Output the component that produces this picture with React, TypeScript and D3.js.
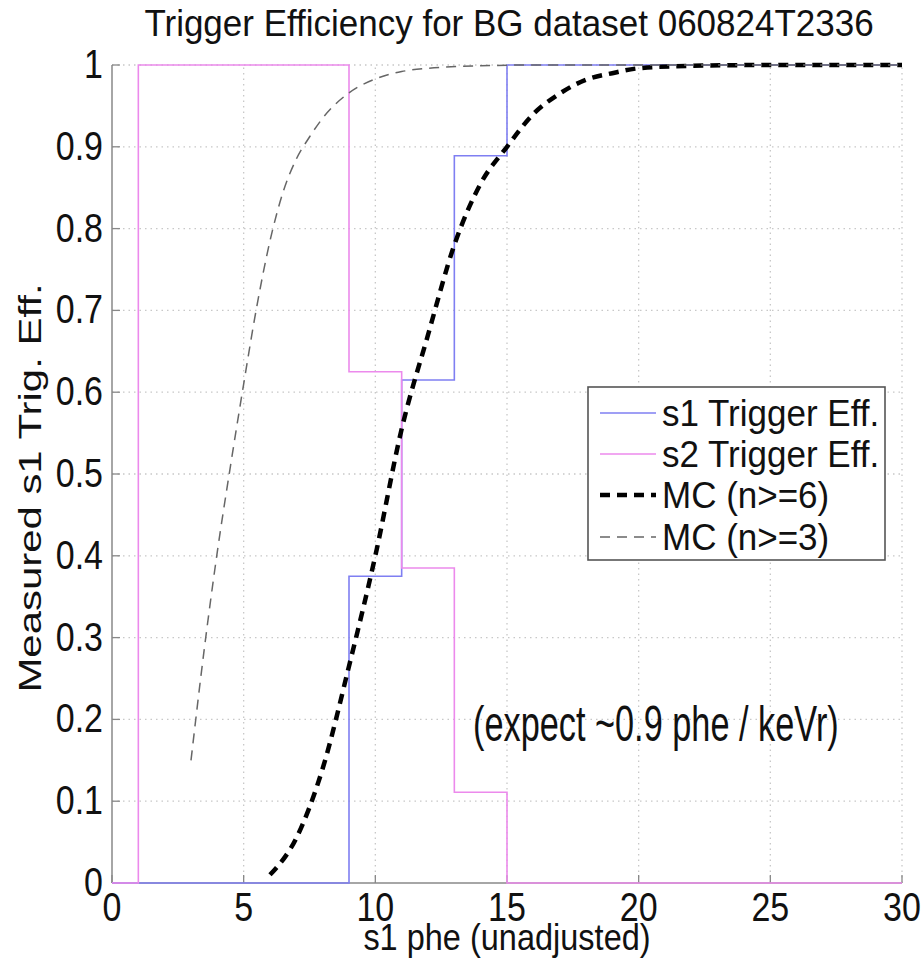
import React from "react";
import * as d3 from "d3";

const W = 924;
const H = 964;

const title = "Trigger Efficiency for BG dataset 060824T2336";
const xLabel = "s1 phe (unadjusted)";
const yLabel = "Measured s1 Trig. Eff.";
const note = "(expect ~0.9 phe / keVr)";

const xTicks = [0, 5, 10, 15, 20, 25, 30];
const yTicks = [0, 0.1, 0.2, 0.3, 0.4, 0.5, 0.6, 0.7, 0.8, 0.9, 1];
const yTickLabels = ["0", "0.1", "0.2", "0.3", "0.4", "0.5", "0.6", "0.7", "0.8", "0.9", "1"];

// stair edges (s1 phe)
const binX = [-1, 1, 3, 5, 7, 9, 11, 13, 15, 17, 19, 21, 23, 25, 27, 29, 31];
const s1Eff = [0, 0, 0, 0, 0, 0.375, 0.615, 0.889, 1, 1, 1, 1, 1, 1, 1, 1, 1];
const s2Eff = [0, 1, 1, 1, 1, 0.625, 0.385, 0.111, 0, 0, 0, 0, 0, 0, 0, 0, 0];

const mc6X = [6, 7, 8, 9, 10, 11, 12, 13, 14, 15, 16, 17, 18, 19, 20, 22, 25, 30];
const mc6Y = [0.01, 0.055, 0.14, 0.265, 0.4, 0.555, 0.67, 0.78, 0.855, 0.9, 0.94, 0.965, 0.982, 0.99, 0.996, 0.999, 1, 1];

const mc3X = [3, 3.5, 4, 4.5, 5, 5.5, 6, 6.5, 7, 7.5, 8, 9, 10, 11, 12, 14, 16, 30];
const mc3Y = [0.15, 0.285, 0.405, 0.51, 0.61, 0.705, 0.785, 0.845, 0.885, 0.912, 0.935, 0.966, 0.983, 0.992, 0.996, 0.999, 1, 1];

const legendItems = [
  { label: "s1 Trigger Eff.", color: "#7f7ff2", width: 1.6, dash: "" },
  { label: "s2 Trigger Eff.", color: "#ec8aec", width: 1.6, dash: "" },
  { label: "MC (n>=6)", color: "#000000", width: 4.5, dash: "10,7" },
  { label: "MC (n>=3)", color: "#666666", width: 1.5, dash: "10,7" },
];

const FONT = "'Liberation Sans', Arial, Helvetica, sans-serif";

function T({ x, y, fs, k = 1, anchor = "start", rotate = 0, children }: any) {
  return (
    <text
      transform={`translate(${x},${y}) scale(1,${k}) rotate(${rotate})`}
      fontSize={fs}
      fontFamily={FONT}
      textAnchor={anchor}
      fill="#111"
    >
      {children}
    </text>
  );
}

export default function App() {
  const left = 112, right = 902, top = 65, bottom = 883;
  const x = d3.scaleLinear().domain([0, 30]).range([left, right]);
  const y = d3.scaleLinear().domain([0, 1]).range([bottom, top]);

  const stair = d3.line<[number, number]>().x(d => x(d[0])).y(d => y(d[1])).curve(d3.curveStepAfter);
  const smooth = d3.line<[number, number]>().x(d => x(d[0])).y(d => y(d[1])).curve(d3.curveMonotoneX);

  const s1Path = stair(binX.map((v, i) => [v, s1Eff[i]]))!;
  const s2Path = stair(binX.map((v, i) => [v, s2Eff[i]]))!;
  const mc6Path = smooth(mc6X.map((v, i) => [v, mc6Y[i]]))!;
  const mc3Path = smooth(mc3X.map((v, i) => [v, mc3Y[i]]))!;

  const lg = { x0: 588, y0: 387, x1: 885, y1: 560 };
  const rowY = [413, 454, 495, 537];

  return (
    <svg width={W} height={H} style={{ position: "absolute", left: 0, top: 0, background: "#fff" }}>
      <defs>
        <clipPath id="plotClip">
          <rect x={left} y={top - 6} width={right - left} height={bottom - top + 12} />
        </clipPath>
      </defs>
      <rect x={0} y={0} width={W} height={H} fill="#fff" />

      {/* grid */}
      {xTicks.filter(t => t > 0).map(t => (
        <line key={"gx" + t} x1={x(t)} x2={x(t)} y1={y(0)} y2={y(1)} stroke="#c8c8c8" strokeWidth={1.3} strokeDasharray="1.5,4" />
      ))}
      {yTicks.filter(t => t > 0).map(t => (
        <line key={"gy" + t} x1={x(0)} x2={x(30)} y1={y(t)} y2={y(t)} stroke="#c8c8c8" strokeWidth={1.3} strokeDasharray="1.5,4" />
      ))}

      {/* axes */}
      <line x1={left} x2={left} y1={top} y2={bottom} stroke="#888" strokeWidth={1.5} />
      <line x1={left} x2={right} y1={bottom} y2={bottom} stroke="#888" strokeWidth={1.5} />
      {xTicks.map(t => (
        <line key={"tx" + t} x1={x(t)} x2={x(t)} y1={bottom} y2={bottom - 8} stroke="#888" strokeWidth={1.3} />
      ))}
      {yTicks.map(t => (
        <line key={"ty" + t} x1={left} x2={left + 8} y1={y(t)} y2={y(t)} stroke="#888" strokeWidth={1.3} />
      ))}

      {/* data */}
      <g clipPath="url(#plotClip)" fill="none">
        <path d={s1Path} stroke={legendItems[0].color} strokeWidth={1.6} />
        <path d={s2Path} stroke={legendItems[1].color} strokeWidth={1.6} />
        <path d={mc6Path} stroke="#000" strokeWidth={4.5} strokeDasharray="10,7" />
        <path d={mc3Path} stroke="#666" strokeWidth={1.5} strokeDasharray="10,7" />
      </g>

      {/* tick labels */}
      {xTicks.map(t => (
        <T key={"lx" + t} x={x(t)} y={921} fs={34} k={1.22} anchor="middle">{String(t)}</T>
      ))}
      {yTicks.map((t, i) => (
        <T key={"ly" + t} x={103} y={y(t) + 13} fs={34} k={1.22} anchor="end">{yTickLabels[i]}</T>
      ))}

      {/* title & labels */}
      <T x={(left + right) / 2 + 2} y={36} fs={35} k={1.04} anchor="middle">{title}</T>
      <T x={(left + right) / 2} y={950} fs={32.5} k={1.12} anchor="middle">{xLabel}</T>
      <T x={41} y={(top + bottom) / 2 + 14} fs={32} k={1.31} anchor="middle" rotate={-90}>{yLabel}</T>
      <T x={473} y={741} fs={34.3} k={1.45}>{note}</T>

      {/* legend */}
      <rect x={lg.x0} y={lg.y0} width={lg.x1 - lg.x0} height={lg.y1 - lg.y0} fill="#fff" stroke="#555" strokeWidth={1.6} />
      {legendItems.map((it, i) => (
        <g key={it.label}>
          <line x1={600} x2={656} y1={rowY[i]} y2={rowY[i]} stroke={it.color} strokeWidth={it.width} strokeDasharray={it.dash || undefined} />
          <T x={662} y={rowY[i] + 13} fs={35} k={1.05}>{it.label}</T>
        </g>
      ))}
    </svg>
  );
}
